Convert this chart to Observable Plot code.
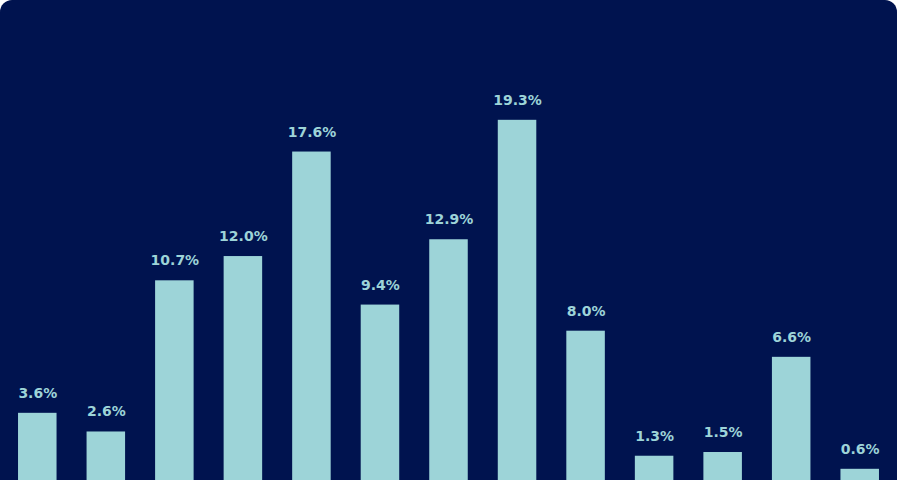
<!DOCTYPE html>
<html>
<head>
<meta charset="utf-8">
<script src="https://cdn.jsdelivr.net/npm/d3@7"></script>
<script src="https://cdn.jsdelivr.net/npm/@observablehq/plot@0.6"></script>
<style>
  html, body { margin: 0; padding: 0; background: #ffffff; }
  #card { width: 897px; height: 480px; background: #00134f; border-radius: 12px 12px 0 0; overflow: hidden; }
  #card svg { display: block; }
</style>
</head>
<body>
<div id="card"></div>
<script>
const categories = ["C1","C2","C3","C4","C5","C6","C7","C8","C9","C10","C11","C12","C13"];
const values = [3.6, 2.6, 10.7, 12.0, 17.6, 9.4, 12.9, 19.3, 8.0, 1.3, 1.5, 6.6, 0.6];

const data = categories.map((c, i) => ({category: c, value: values[i]}));

const chart = Plot.plot({
  width: 897,
  height: 480,
  marginTop: 0,
  marginBottom: 0,
  marginLeft: 0,
  marginRight: 0,
  style: {background: "transparent", fontFamily: "DejaVu Sans"},
  x: {domain: categories, paddingInner: 0.438, paddingOuter: 0.263, round: false, axis: null},
  y: {domain: [0, 25.72], axis: null},
  marks: [
    Plot.barY(data, {x: "category", y: "value", fill: "#9dd4d8"}),
    Plot.text(data, {
      x: "category", y: "value",
      text: d => d.value.toFixed(1) + "%",
      dy: -20,
      fill: "#9dd4d8",
      fontSize: 14,
      fontWeight: "bold"
    })
  ]
});
document.getElementById("card").appendChild(chart);
</script>
</body>
</html>
